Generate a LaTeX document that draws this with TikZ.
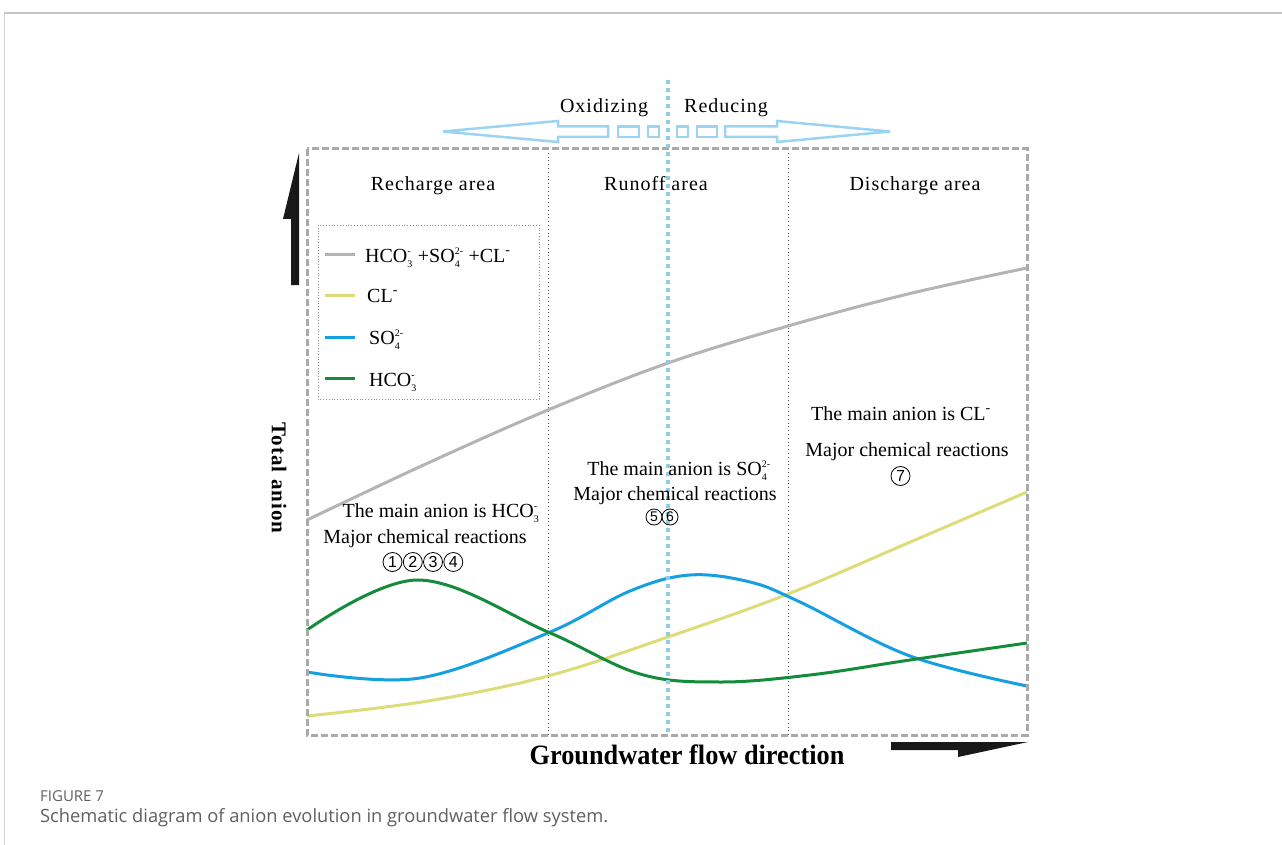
\documentclass[tikz,border=0pt]{standalone}
\usepackage{fontspec}
\usepackage{amsmath}
\setmainfont{Liberation Serif}
\newfontfamily\numfont{Liberation Sans}
\newfontfamily\capfont{Open Sans}
\newfontfamily\spacedfont[LetterSpace=5]{Liberation Serif}
\newcommand{\chemsc}[2]{$_{\scriptscriptstyle\text{#1}}^{\scriptscriptstyle\text{#2}}$}
\definecolor{boxgray}{RGB}{170,170,170}
\definecolor{sumgray}{RGB}{180,180,180}
\definecolor{clyellow}{RGB}{220,220,120}
\definecolor{soblue}{RGB}{20,160,225}
\definecolor{hcgreen}{RGB}{20,140,60}
\definecolor{lightblue}{RGB}{140,205,235}
\definecolor{arrowblue}{RGB}{155,212,242}
\definecolor{capgray}{RGB}{95,95,95}
\tikzset{
  txt/.style={font=\fontsize{20}{24}\selectfont, anchor=base, inner sep=0pt},
  circnum/.style={circle, draw=black, line width=0.8pt, minimum size=19pt, inner sep=0pt, font=\numfont\fontsize{16}{18}\selectfont},
  circsmall/.style={circnum, minimum size=16pt, font=\numfont\fontsize{14}{16}\selectfont},
  areatxt/.style={font=\spacedfont\fontsize{20}{24}\selectfont, anchor=base, inner sep=0pt},
  legtxt/.style={font=\fontsize{20}{24}\selectfont, anchor=base west, inner sep=0pt},
  curve/.style={line width=3pt, smooth, tension=0.6},
  divider/.style={draw=black!70, line width=0.8pt, dash pattern=on 0.8pt off 3pt},
}
\begin{document}
\begin{tikzpicture}[x=1pt,y=-1pt]
\useasboundingbox (0,0) rectangle (1282,845);
% page frame
\draw[gray!45, line width=2pt] (4,13) -- (1282,13);
\draw[gray!35, line width=1pt] (4,13) -- (4,845);

% dividers
\draw[divider] (548,149) -- (548,735);
\draw[divider] (788,149) -- (788,735);

% legend box
\draw[black!45, line width=0.8pt, dash pattern=on 0.8pt off 2pt] (318,225) rectangle (539,399);
\draw[sumgray, line width=3pt] (325,254) -- (355,254);
\draw[clyellow, line width=3pt] (325,295) -- (355,295);
\draw[soblue, line width=3pt] (325,337) -- (355,337);
\draw[hcgreen, line width=3pt] (325,378) -- (355,378);
\node[legtxt] (l1) at (365,262) {HCO\chemsc{3}{-} +SO\chemsc{4}{2-} +CL\textsuperscript{-}};
\node[legtxt] (l2) at (367,302) {CL\textsuperscript{-}};
\node[legtxt] (l3) at (369,344) {SO\chemsc{4}{2-}};
\node[legtxt] (l4) at (369,386) {HCO\chemsc{3}{-}};

% curves
\draw[sumgray, curve] plot coordinates {(307,520) (428,463) (548,410) (668,363) (788,326) (908,294) (1027,268)};
\draw[clyellow, curve] plot coordinates {(307,716) (428,701) (548,676) (668,637) (788,594) (908,543) (1027,492)};
\draw[soblue, curve] plot coordinates {(307,672) (420,678) (548,633) (630,591) (690,575) (750,582) (800,602) (910,656) (1027,686)};
\draw[hcgreen, curve] plot coordinates {(307,630) (418,580) (548,632) (640,674) (720,682) (810,675) (910,660) (1027,643)};

% main dashed box
\draw[boxgray, line width=3pt, dash pattern=on 7pt off 3pt] (307,149) rectangle (1027,735);

% light blue dotted line
\draw[lightblue, line width=3.5pt, dash pattern=on 4pt off 4pt] (668,80) -- (668,735);

% top double arrow (outline)
\begin{scope}[arrowblue, line width=2.5pt, line join=miter]
\draw (443,131.5) -- (558,121) -- (558,126.5) -- (608,126.5) -- (608,137) -- (558,137) -- (558,142) -- cycle;
\draw (618,126.5) rectangle (639,137);
\draw (648,126.5) rectangle (659,137);
\draw (677,126.5) rectangle (688,137);
\draw (697,126.5) rectangle (717,137);
\draw (725,126.5) -- (777,126.5) -- (777,121) -- (890,131.5) -- (777,142) -- (777,137) -- (725,137) -- cycle;
\end{scope}
\node[areatxt] (ox) at (604,113) {Oxidizing};
\node[areatxt] (re) at (726,113) {Reducing};

% area titles
\node[areatxt] (ra) at (433,191) {Recharge area};
\node[areatxt] (ru) at (656,191) {Runoff area};
\node[areatxt] (da) at (915,191) {Discharge area};

% area descriptions
\node[txt] (h1) at (441,517) {The main anion is HCO\chemsc{3}{-}};
\node[txt] (h2) at (425,543) {Major chemical reactions};
\node[circnum] (n1) at (392.5,562) {1};
\node[circnum] (n2) at (412.8,562) {2};
\node[circnum] (n3) at (433,562) {3};
\node[circnum] (n4) at (453.3,562) {4};
\node[txt] (s1) at (679,475) {The main anion is SO\chemsc{4}{2-}};
\node[txt] (s2) at (675,500) {Major chemical reactions};
\node[circsmall] (n5) at (654,517) {5};
\node[circsmall] (n6) at (670,517) {6};
\node[txt] (c1) at (901,420) {The main anion is CL\textsuperscript{-}};
\node[txt] (c2) at (907,456) {Major chemical reactions};
\node[circnum] (n7) at (900.5,476) {7};

% axis arrows
\fill[black!90] (291,285) -- (291,219) -- (283,219) -- (299,153) -- (299,285) -- cycle;
\fill[black!90] (891,742) -- (1028,742) -- (958,757) -- (958,750) -- (891,750) -- cycle;

% axis labels
\node[font=\spacedfont\bfseries\fontsize{21}{25}\selectfont, rotate=-90, inner sep=0pt] (ta) at (279,478) {Total anion};
\node[font=\bfseries\fontsize{28}{32}\selectfont, inner sep=0pt] (gf) at (687,755) {\scalebox{0.94}[1]{Groundwater flow direction}};

% caption
\node[font=\capfont\fontsize{15}{18}\selectfont, text=capgray, anchor=base west, inner sep=0pt] (fig) at (40,801) {FIGURE 7};
\node[font=\capfont\fontsize{18.3}{22}\selectfont, text=capgray, anchor=base west, inner sep=0pt] (cap) at (40,822) {Schematic diagram of anion evolution in groundwater flow system.};
\end{tikzpicture}
\end{document}
